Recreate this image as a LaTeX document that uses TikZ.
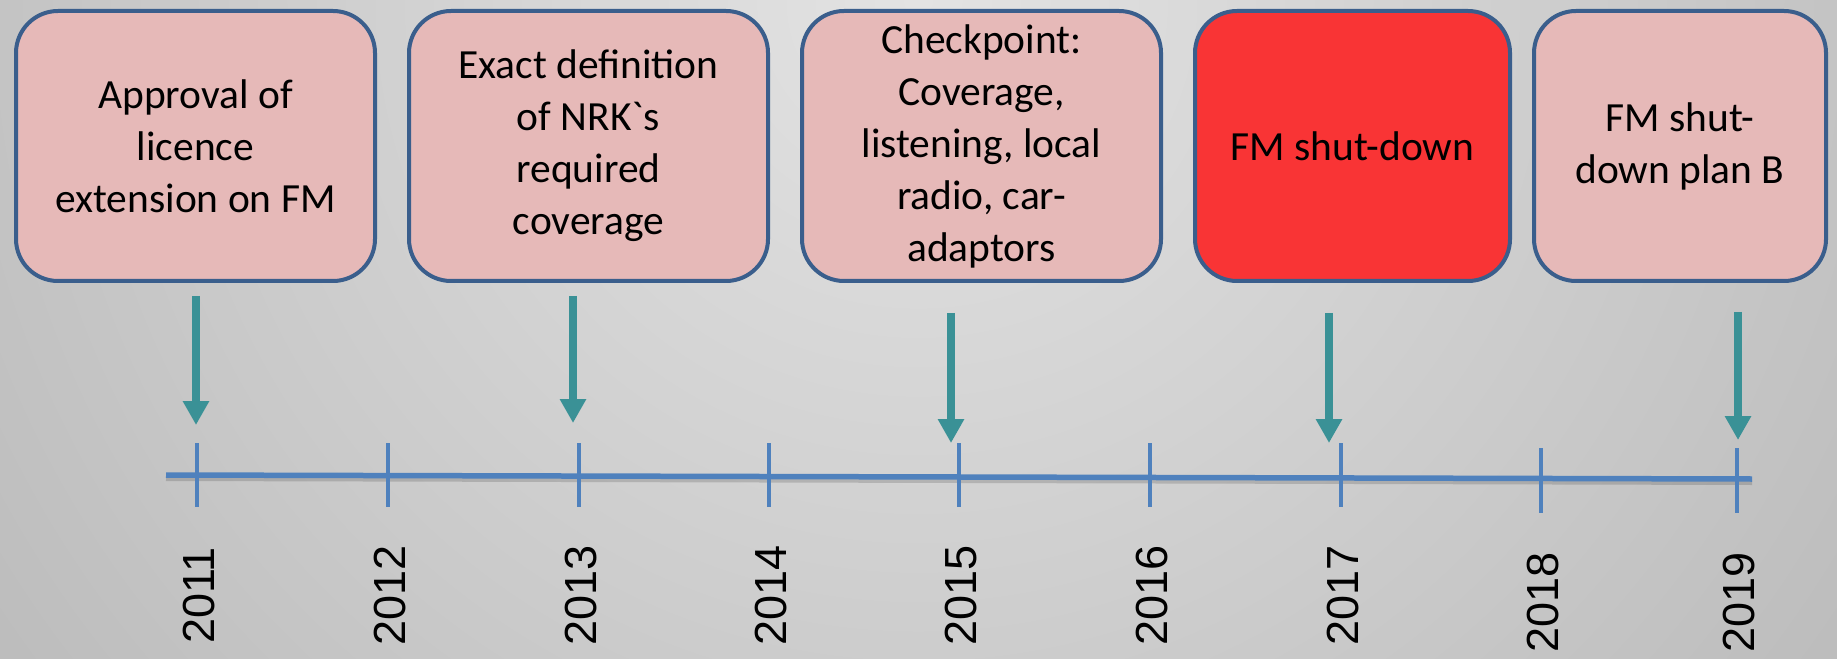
\documentclass[tikz,border=0pt]{standalone}
\usepackage{fontspec}
\setmainfont{Carlito}
\newfontfamily\yearfont{Liberation Sans}
\usetikzlibrary{arrows.meta}

\definecolor{boxrose}{RGB}{230,185,184}
\definecolor{boxred}{RGB}{249,52,53}
\definecolor{boxedge}{RGB}{58,94,140}
\definecolor{axisblue}{RGB}{79,129,189}
\definecolor{arrowteal}{RGB}{58,145,150}
\definecolor{bglight}{RGB}{227,227,227}
\definecolor{bgdark}{RGB}{150,150,150}

\tikzset{
  etape/.style={draw=boxedge, line width=0.04cm, fill=boxrose,
    rounded corners=0.42cm, minimum height=2.70cm, align=center,
    inner sep=0pt, font=\fontsize{11.8}{14.8}\selectfont},
  annee/.style={rotate=90, inner sep=0pt,
    font=\yearfont\fontsize{12.8}{14}\selectfont},
  fleche/.style={draw=arrowteal, line width=0.08cm,
    -{Triangle[width=0.25cm,length=0.24cm]}},
  graduation/.style={draw=axisblue, line width=0.045cm},
}

\begin{document}
\begin{tikzpicture}

\useasboundingbox (0,0) rectangle (18.37,6.58);

% fond
\begin{scope}
\clip (0,0) rectangle (18.37,6.58);
\shade[inner color=bglight, outer color=bgdark]
(9.18,6.58) circle (22.6);
\end{scope}

% etapes
\node[etape, minimum width=3.59cm] (approval)
at (1.955,5.12)
{Approval of\\licence\\extension on FM};

\node[etape, minimum width=3.59cm] (definition)
at (5.885,5.12)
{Exact definition\\of NRK\textasciigrave{}s\\required\\coverage};

\node[etape, minimum width=3.59cm] (checkpoint)
at (9.815,5.12)
{Checkpoint:\\Coverage,\\listening, local\\radio, car-\\adaptors};

\node[etape, minimum width=3.15cm, fill=boxred] (shutdown)
at (13.525,5.12)
{FM shut-down};

\node[etape, minimum width=2.92cm] (planb)
at (16.80,5.12)
{FM shut-\\down plan B};

% axe du temps
\coordinate (axisL) at (1.66,1.83);
\coordinate (axisR) at (17.52,1.79);

\draw[black, opacity=0.15, line width=0.05cm]
([yshift=-0.035cm]axisL)
--
([yshift=-0.035cm]axisR);

\draw[axisblue, line width=0.055cm]
(axisL)
--
(axisR);

\draw[graduation] (1.97,2.15) -- (1.97,1.51);
\draw[graduation] (3.88,2.15) -- (3.88,1.51);
\draw[graduation] (5.79,2.15) -- (5.79,1.51);
\draw[graduation] (7.69,2.15) -- (7.69,1.51);
\draw[graduation] (9.59,2.15) -- (9.59,1.51);
\draw[graduation] (11.50,2.15) -- (11.50,1.51);
\draw[graduation] (13.41,2.15) -- (13.41,1.51);
\draw[graduation] (15.41,2.10) -- (15.41,1.45);
\draw[graduation] (17.37,2.10) -- (17.37,1.45);

% annees
\node[annee] (y2011) at (1.99,0.625) {2011};
\node[annee] (y2012) at (3.90,0.625) {2012};
\node[annee] (y2013) at (5.81,0.625) {2013};
\node[annee] (y2014) at (7.71,0.625) {2014};
\node[annee] (y2015) at (9.61,0.625) {2015};
\node[annee] (y2016) at (11.52,0.625) {2016};
\node[annee] (y2017) at (13.43,0.625) {2017};
\node[annee] (y2018) at (15.43,0.555) {2018};
\node[annee] (y2019) at (17.39,0.555) {2019};

% fleches
\coordinate (f1a) at (1.96,3.62);
\coordinate (f1b) at (1.96,2.33);
\coordinate (f2a) at (5.73,3.62);
\coordinate (f2b) at (5.73,2.35);
\coordinate (f3a) at (9.51,3.45);
\coordinate (f3b) at (9.51,2.15);
\coordinate (f4a) at (13.29,3.45);
\coordinate (f4b) at (13.29,2.15);
\coordinate (f5a) at (17.38,3.46);
\coordinate (f5b) at (17.38,2.18);

\draw[fleche] (f1a) -- (f1b);
\draw[fleche] (f2a) -- (f2b);
\draw[fleche] (f3a) -- (f3b);
\draw[fleche] (f4a) -- (f4b);
\draw[fleche] (f5a) -- (f5b);

\end{tikzpicture}
\end{document}
